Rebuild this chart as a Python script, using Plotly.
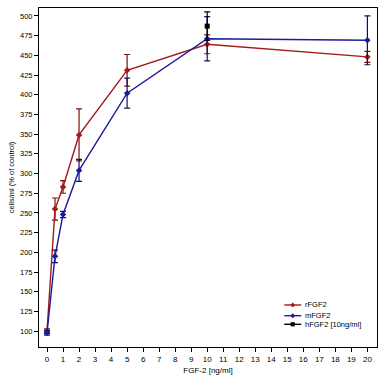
import plotly.graph_objects as go

x_vals = [0, 0.5, 1, 2, 5, 10, 20]
r_fgf2 = [100, 255, 283, 349, 431, 464, 448]
r_err = [3, 14, 8, 33, 20, 12, 7]
m_fgf2 = [98, 195, 248, 304, 402, 471, 469]
m_err = [3, 8, 4, 14, 19, 28, 31]
h_x = [10]
h_fgf2 = [487]
h_err = [18]

y_ticks = list(range(100, 501, 25))
x_ticks = list(range(0, 21))

red = "#A3191C"
blue = "#1B1B9B"
font_family = "Liberation Sans, Arial, sans-serif"

fig = go.Figure()
fig.add_trace(go.Scatter(
    x=x_vals, y=r_fgf2, name="rFGF2", mode="lines+markers",
    line=dict(color=red, width=1.4),
    marker=dict(symbol="diamond", size=5, color=red),
    error_y=dict(type="data", array=r_err, color="#7A1010", thickness=1.2, width=3),
))
fig.add_trace(go.Scatter(
    x=x_vals, y=m_fgf2, name="mFGF2", mode="lines+markers",
    line=dict(color=blue, width=1.4),
    marker=dict(symbol="diamond", size=5, color=blue),
    error_y=dict(type="data", array=m_err, color="#101060", thickness=1.2, width=3),
))
fig.add_trace(go.Scatter(
    x=h_x, y=h_fgf2, name="hFGF2 [10ng/ml]", mode="markers",
    marker=dict(symbol="square", size=5, color="black"),
    error_y=dict(type="data", array=h_err, color="black", thickness=1.2, width=3),
))

# custom compact legend (paper coordinates)
legend_items = [("rFGF2", red, "diamond", 0.1239),
                ("mFGF2", blue, "diamond", 0.0923),
                ("hFGF2 [10ng/ml]", "black", "square", 0.067)]
lx0, lx1, lxm, ltx = 0.7257, 0.7758, 0.7507, 0.7817
for name, col, sym, yy in legend_items:
    fig.add_shape(type="line", xref="paper", yref="paper", x0=lx0, x1=lx1, y0=yy, y1=yy,
                  line=dict(color=col, width=1.4))
    if sym == "diamond":
        d = 0.0072
        path = f"M {lxm-d} {yy} L {lxm} {yy+d} L {lxm+d} {yy} L {lxm} {yy-d} Z"
    else:
        d = 0.0062
        path = f"M {lxm-d} {yy-d} L {lxm-d} {yy+d} L {lxm+d} {yy+d} L {lxm+d} {yy-d} Z"
    fig.add_shape(type="path", xref="paper", yref="paper", path=path,
                  fillcolor=col, line=dict(color=col, width=0))
    fig.add_annotation(x=ltx, y=yy, xref="paper", yref="paper", text=name,
                       showarrow=False, xanchor="left", yanchor="middle",
                       font=dict(family=font_family, size=7.5, color="black"))

fig.update_layout(
    width=389, height=379,
    margin=dict(l=39, r=12, t=8, b=32),
    plot_bgcolor="white", paper_bgcolor="white",
    font=dict(family=font_family, size=8, color="black"),
    showlegend=False,
    xaxis=dict(range=[-0.5, 20.6], tickvals=x_ticks, showgrid=False, zeroline=False,
               showline=True, linecolor="black", linewidth=1, mirror=True,
               ticks="outside", ticklen=4, tickcolor="black", automargin=False,
               title=dict(text="FGF-2 [ng/ml]", font=dict(size=8), standoff=4),
               tickfont=dict(size=8)),
    yaxis=dict(range=[80, 510], tickvals=y_ticks, showgrid=False, zeroline=False,
               showline=True, linecolor="black", linewidth=1, mirror=True,
               ticks="outside", ticklen=4, tickcolor="black", automargin=False,
               title=dict(text="cells/ml (% of control)", font=dict(size=7.5), standoff=4),
               tickfont=dict(size=7.5)),
)

fig.write_html("out.html", config={"displayModeBar": False},
               post_script="document.body.style.margin='0';")
